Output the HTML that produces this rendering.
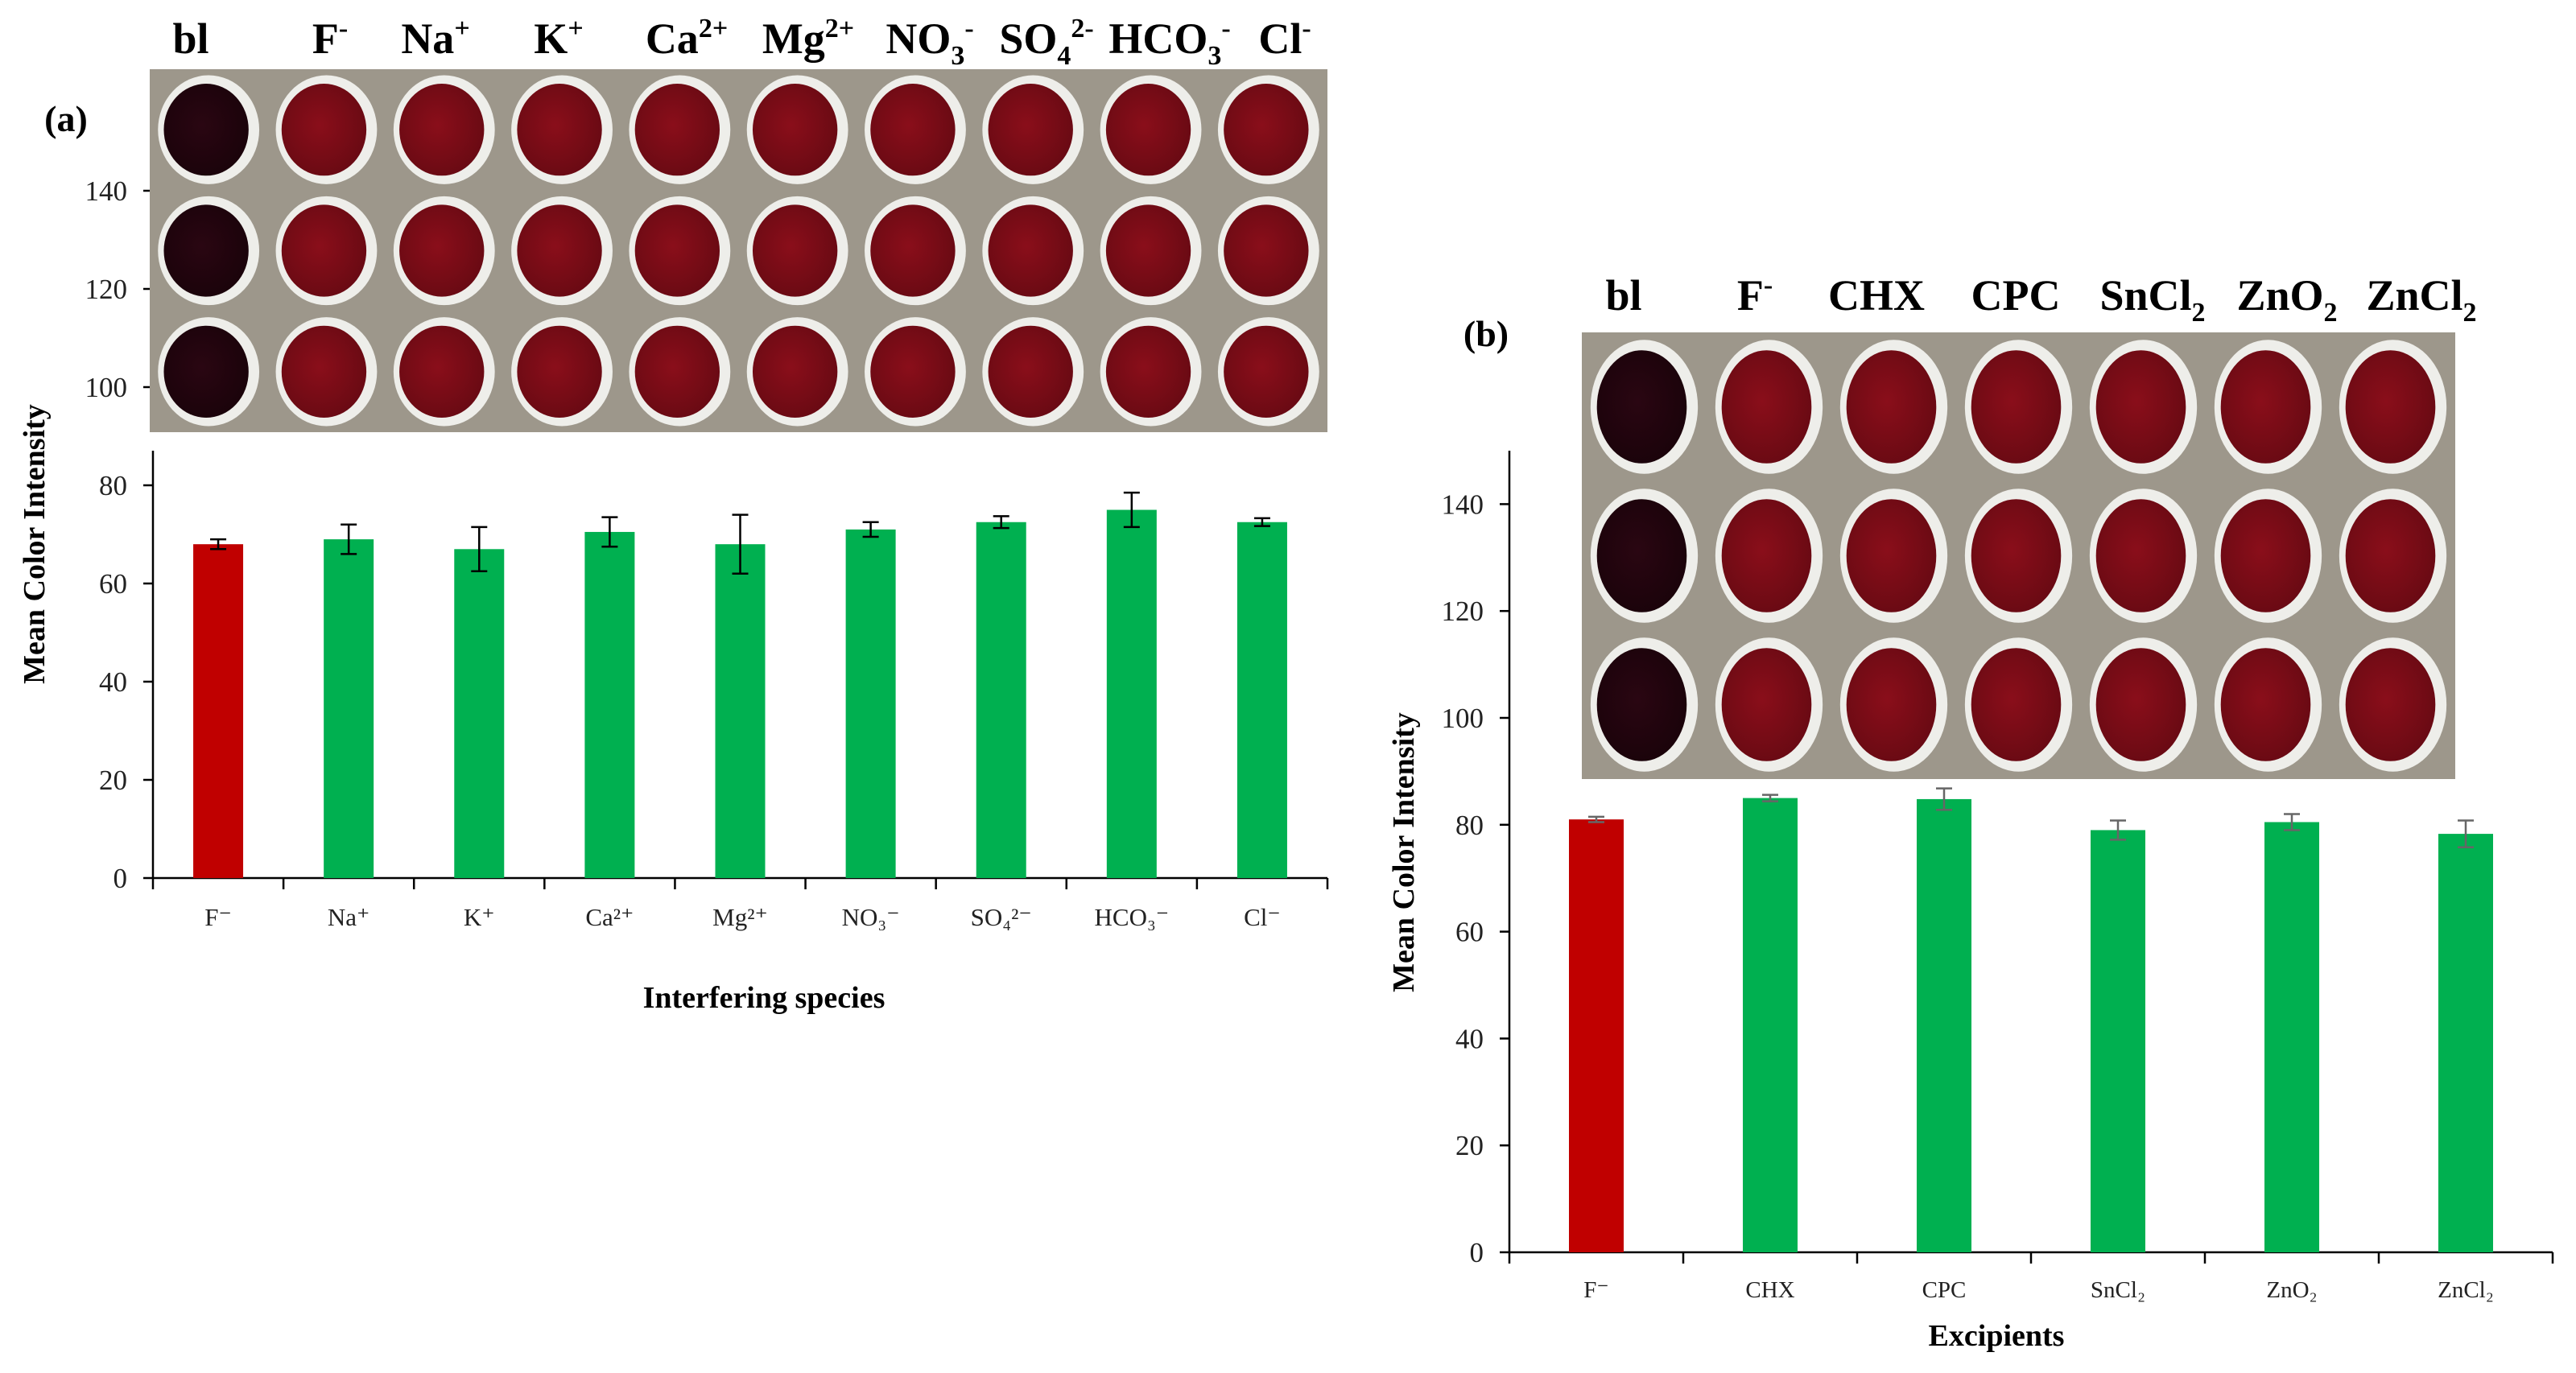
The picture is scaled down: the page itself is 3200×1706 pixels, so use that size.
<!DOCTYPE html>
<html><head><meta charset="utf-8">
<style>
html,body{margin:0;padding:0;background:#fff;}
svg{display:block;}
text{font-family:"Liberation Serif",serif;}
</style></head>
<body>
<svg id="fig" width="3200" height="1706" viewBox="0 0 3200 1706" xmlns="http://www.w3.org/2000/svg">
<defs>
<radialGradient id="redwell" cx="45%" cy="45%" r="60%"><stop offset="0" stop-color="#8a0e1a"/><stop offset="1" stop-color="#680a13"/></radialGradient>
<radialGradient id="blwell" cx="45%" cy="45%" r="60%"><stop offset="0" stop-color="#2a0612"/><stop offset="1" stop-color="#1a030a"/></radialGradient>
</defs>
<g id="panelA"></g>
<g id="panelB"></g>
</svg>
<script>
// ---- Panel (a) data ----
const catsA = ["F⁻","Na⁺","K⁺","Ca²⁺","Mg²⁺","NO₃⁻","SO₄²⁻","HCO₃⁻","Cl⁻"];
const valsA = [68, 69, 67, 70.5, 68, 71, 72.5, 75, 72.5];
const errsA = [1, 3, 4.5, 3, 6, 1.5, 1.2, 3.5, 0.8];
const ticksA = [0, 20, 40, 60, 80, 100, 120, 140];
// ---- Panel (b) data ----
const catsB = ["F⁻","CHX","CPC","SnCl₂","ZnO₂","ZnCl₂"];
const valsB = [81, 85, 84.8, 79, 80.5, 78.3];
const errsB = [0.5, 0.6, 2, 1.8, 1.5, 2.5];
const ticksB = [0, 20, 40, 60, 80, 100, 120, 140];

const NS = "http://www.w3.org/2000/svg";
function mk(parent, tag, attrs, txt){
  const e = document.createElementNS(NS, tag);
  for (const k in attrs) e.setAttribute(k, attrs[k]);
  if (txt !== undefined) e.textContent = txt;
  parent.appendChild(e);
  return e;
}

function drawPanel(g, cfg){
  const y = v => cfg.y0 - v * cfg.pxPerUnit;
  const bw = (cfg.x1 - cfg.x0) / cfg.cats.length;
  const x = i => cfg.x0 + bw * (i + 0.5);
  const ya = mk(g, "line", {x1:cfg.x0, y1:cfg.yTop, x2:cfg.x0, y2:cfg.y0, stroke:"#000", "stroke-width":2.5});
  
  
  const xa = mk(g, "line", {x1:cfg.x0, y1:cfg.y0, x2:cfg.x1, y2:cfg.y0, stroke:"#000", "stroke-width":2.5});
  
  
  cfg.ticks.forEach(t => {
    const tl = mk(g, "line", {x1:cfg.x0-12, y1:y(t), x2:cfg.x0, y2:y(t), stroke:"#000", "stroke-width":2.5});
    
    
    const tt = mk(g, "text", {x:cfg.x0-32, y:y(t)+12, "text-anchor":"end", "font-size":35, fill:"#222"}, String(t));
    
    
  });
  for (let i = 0; i <= cfg.cats.length; i++){
    const xt = mk(g, "line", {x1:cfg.x0+bw*i, y1:cfg.y0, x2:cfg.x0+bw*i, y2:cfg.y0+14, stroke:"#000", "stroke-width":2.5});
    
    
  }
  cfg.cats.forEach((c, i) => {
    const b = mk(g, "rect", {x:x(i)-cfg.barW/2, y:y(cfg.vals[i]), width:cfg.barW, height:cfg.y0 - y(cfg.vals[i]), fill: i===0 ? "#c00000" : "#00b050"});
    
    
    const e = cfg.errs[i], ec = cfg.errColor;
    const eb = mk(g, "path", {d:`M${x(i)} ${y(cfg.vals[i]+e)}V${y(cfg.vals[i]-e)}M${x(i)-10} ${y(cfg.vals[i]+e)}H${x(i)+10}M${x(i)-10} ${y(cfg.vals[i]-e)}H${x(i)+10}`, stroke:ec, "stroke-width":2.5, fill:"none"});
    
    
    const lt = mk(g, "text", {x:x(i), y:cfg.labelY, "text-anchor":"middle", "font-size":cfg.labelSize, fill:"#222"}, c);
    
    
  });
}

function drawPlate(g, px, py, pw, ph, cols, labels, labelXs, labelY){
  const bg = mk(g, "rect", {x:px, y:py, width:pw, height:ph, fill:"#9d978b"});
  
  
  const cw = pw/cols, rh = ph/3;
  for (let c = 0; c < cols; c++){
    for (let r = 0; r < 3; r++){
      const cx = px + cw*(c+0.5), cy = py + rh*(r+0.5);
      const o = mk(g, "ellipse", {cx:cx, cy:cy, rx:cw*0.43, ry:rh*0.45, fill:"#eeeeea"});
      
      
      const w = mk(g, "ellipse", {cx:cx-3, cy:cy, rx:cw*0.36, ry:rh*0.38, fill: c===0 ? "url(#blwell)" : "url(#redwell)"});
      
      
    }
  }
  labels.forEach((l, i) => {
    const t = mk(g, "text", {x:labelXs[i], y:labelY, "text-anchor":"middle", "font-size":54, "font-weight":"bold", fill:"#000"});
    
    
    t.innerHTML = l;
  });
}

const gA = document.getElementById("panelA");
drawPanel(gA, {x0:190, x1:1649, y0:1091, yTop:560, pxPerUnit:122/20, cats:catsA, vals:valsA, errs:errsA, ticks:ticksA, barW:62, errColor:"#000", labelY:1150, labelSize:31});
const labA = ['bl','F<tspan dy="-20" font-size="34">-</tspan>','Na<tspan dy="-20" font-size="34">+</tspan>','K<tspan dy="-20" font-size="34">+</tspan>','Ca<tspan dy="-20" font-size="34">2+</tspan>','Mg<tspan dy="-20" font-size="34">2+</tspan>','NO<tspan dy="14" font-size="34">3</tspan><tspan dy="-34" font-size="34">-</tspan>','SO<tspan dy="14" font-size="34">4</tspan><tspan dy="-34" font-size="34">2-</tspan>','HCO<tspan dy="14" font-size="34">3</tspan><tspan dy="-34" font-size="34">-</tspan>','Cl<tspan dy="-20" font-size="34">-</tspan>'];
drawPlate(gA, 186, 86, 1463, 451, 10, labA, [237,410,541,694,853,1004,1155,1300,1453,1596], 66);
let t;
t = mk(gA, "text", {x:82, y:163, "text-anchor":"middle", "font-size":46, "font-weight":"bold"}, "(a)");
 
t = mk(gA, "text", {x:0, y:0, transform:"translate(55,676) rotate(-90)", "text-anchor":"middle", "font-size":38, "font-weight":"bold"}, "Mean Color Intensity");
 
t = mk(gA, "text", {x:949, y:1252, "text-anchor":"middle", "font-size":38, "font-weight":"bold"}, "Interfering species");
 

const gB = document.getElementById("panelB");
drawPanel(gB, {x0:1875, x1:3171, y0:1556, yTop:560, pxPerUnit:6.64, cats:catsB, vals:valsB, errs:errsB, ticks:ticksB, barW:68, errColor:"#666", labelY:1612, labelSize:29});
const labB = ['bl','F<tspan dy="-20" font-size="34">-</tspan>','CHX','CPC','SnCl<tspan dy="14" font-size="34">2</tspan>','ZnO<tspan dy="14" font-size="34">2</tspan>','ZnCl<tspan dy="14" font-size="34">2</tspan>'];
drawPlate(gB, 1965, 413, 1085, 555, 7, labB, [2017,2180,2331,2504,2674,2841,3008], 385);
t = mk(gB, "text", {x:1846, y:430, "text-anchor":"middle", "font-size":46, "font-weight":"bold"}, "(b)");
 
t = mk(gB, "text", {x:0, y:0, transform:"translate(1756,1059) rotate(-90)", "text-anchor":"middle", "font-size":38, "font-weight":"bold"}, "Mean Color Intensity");
 
t = mk(gB, "text", {x:2480, y:1672, "text-anchor":"middle", "font-size":38, "font-weight":"bold"}, "Excipients");
 
</script>
</body></html>
